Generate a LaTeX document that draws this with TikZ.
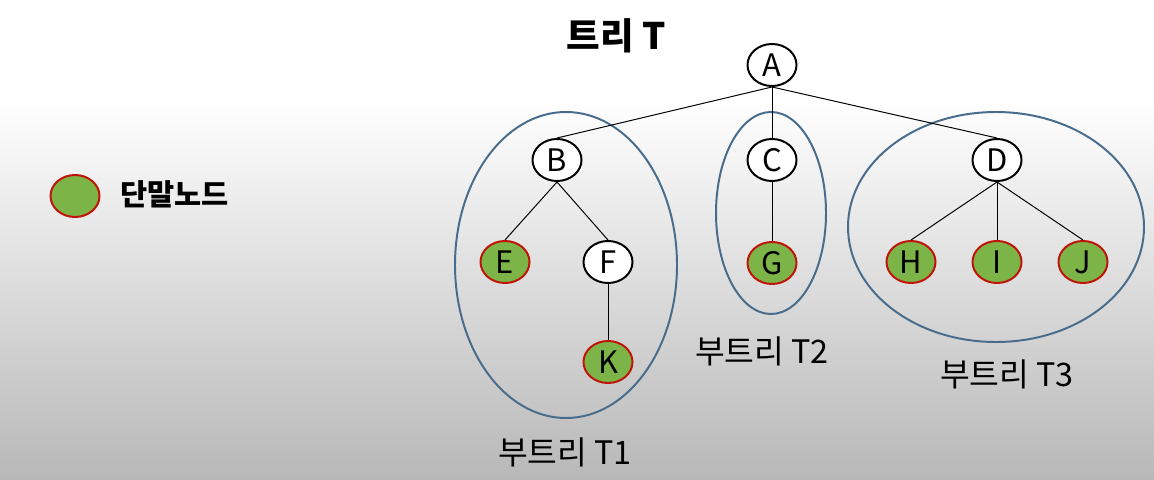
\documentclass[tikz,border=0pt]{standalone}
\usepackage{fontspec}
\setmainfont{Noto Sans CJK KR}
\usetikzlibrary{shapes.geometric}
\definecolor{leafgreen}{RGB}{124,180,72}
\definecolor{leafred}{RGB}{192,20,10}
\definecolor{groupblue}{RGB}{72,108,140}
\definecolor{bggray}{RGB}{184,184,184}
\tikzset{
  tnode/.style={ellipse, draw=black, line width=1.4pt, fill=white, minimum width=1.225cm, minimum height=1.05cm, inner sep=0pt, font=\fontsize{22}{22}\selectfont},
  leaf/.style={tnode, draw=leafred, fill=leafgreen},
  edge/.style={draw=black, line width=0.7pt},
  group/.style={draw=groupblue, line width=1.4pt},
  sublabel/.style={font=\fontsize{23}{25}\selectfont, inner sep=0pt},
}
\begin{document}
\begin{tikzpicture}[x=0.025cm, y=-0.025cm]
\useasboundingbox (0,0) rectangle (1154,479);
\fill[white] (0,0) rectangle (1154,101);
\shade[top color=white, bottom color=bggray] (0,100) rectangle (1154,479);
% subtree ellipses
\draw[group] (566,265) ellipse [x radius=111, y radius=153];
\draw[group] (771,213) ellipse [x radius=55, y radius=101];
\draw[group] (996,227) ellipse [x radius=148, y radius=115];
% nodes
\node[tnode] (A) at (772,65) {A};
\node[tnode] (B) at (557,160) {B};
\node[tnode] (C) at (772,160) {C};
\node[tnode] (D) at (997,160) {D};
\node[leaf] (E) at (505,262) {E};
\node[tnode] (F) at (608,262) {F};
\node[leaf] (G) at (772,263) {G};
\node[leaf] (H) at (911,262) {H};
\node[leaf] (I) at (997,262) {I};
\node[leaf] (J) at (1083,262) {J};
\node[leaf] (K) at (608,362) {K};
% edges
\draw[edge] (A.south) -- (B.north);
\draw[edge] (A.south) -- (C.north);
\draw[edge] (A.south) -- (D.north);
\draw[edge] (B.south) -- (E.north);
\draw[edge] (B.south) -- (F.north);
\draw[edge] (F.south) -- (K.north);
\draw[edge] (C.south) -- (G.north);
\draw[edge] (D.south) -- (H.north);
\draw[edge] (D.south) -- (I.north);
\draw[edge] (D.south) -- (J.north);
% labels
\node[font=\fontsize{26}{28}\selectfont\bfseries, inner sep=0pt] (title) at (616,36) {트리 T};
\node[sublabel] (l1) at (565,452) {부트리 T1};
\node[sublabel] (l2) at (762,351) {부트리 T2};
\node[sublabel] (l3) at (1007,374) {부트리 T3};
% legend
\node[leaf] (leg) at (75,196) {};
\node[font=\fontsize{21}{22}\selectfont\bfseries, inner sep=0pt, anchor=west] (legtext) at (120,194) {단말노드};
\end{tikzpicture}
\end{document}
